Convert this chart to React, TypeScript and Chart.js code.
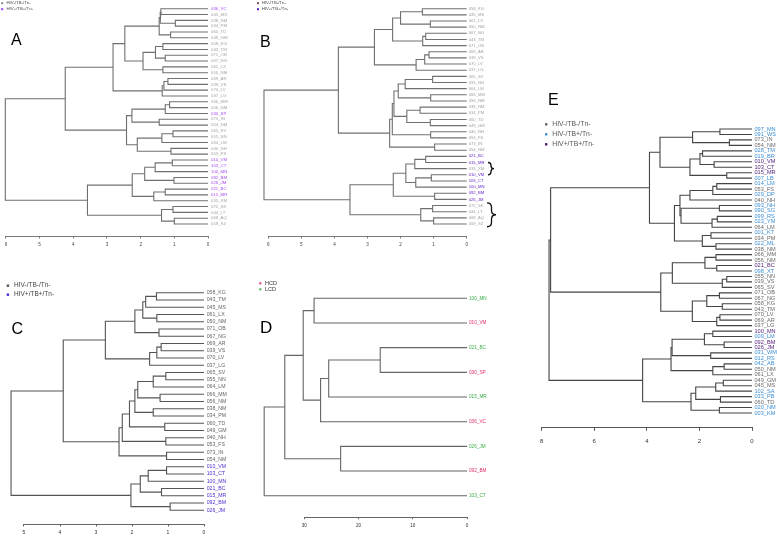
import React, { useEffect, useRef } from "react";
import { Chart, registerables } from "chart.js";

Chart.register(...registerables);

type Merge = [string, string, number];

// ---------------- Panel A data ----------------
const leavesA = ["036_VC","045_MS","038_NM","034_PM","060_TD","049_GM","058_KG","043_TM","071_OB","067_NG","061_LX","050_NM","069_AR","039_VS","070_LV","037_LG","066_MM","056_NM","030_SP","073_IN","054_NM","065_SV","055_NN","064_LM","040_NH","053_FS","010_VM","103_CT","100_MN","092_BM","026_JM","021_BC","015_MR","035_XM","072_SK","044_LT","068_AQ","059_SZ"];
const groupsA = [1,0,0,0,0,0,0,0,0,0,0,0,0,0,0,0,0,0,1,0,0,0,0,0,0,0,1,1,1,1,1,1,1,0,0,0,0,0];
const mergesA: Merge[] = [
  ["036_VC","045_MS",1.40],["038_NM","034_PM",0.97],["m0","m1",1.42],["060_TD","049_GM",1.11],["m2","m3",1.45],
  ["058_KG","043_TM",1.34],["071_OB","067_NG",1.27],["m5","m6",1.56],["061_LX","050_NM",1.34],["m7","m8",1.93],
  ["m4","m9",2.47],["069_AR","039_VS",1.19],["m11","070_LV",1.31],["m12","037_LG",1.36],["m10","m13",2.82],
  ["066_MM","056_NM",1.14],["m15","030_SP",1.27],["073_IN","054_NM",1.45],["m16","m17",2.26],["065_SV","055_NN",1.04],
  ["m19","064_LM",1.37],["040_NH","053_FS",1.10],["m20","m21",2.10],["m18","m22",2.42],["m14","m23",4.24],
  ["010_VM","103_CT",1.06],["m25","100_MN",1.57],["092_BM","026_JM",1.01],["m26","m27",1.88],["021_BC","015_MR",1.27],
  ["m29","035_XM",1.61],["m28","m30",2.25],["072_SK","044_LT",1.04],["068_AQ","059_SZ",1.00],["m32","m33",1.38],
  ["m31","m34",3.58],["m24","m35",6.02],
];
const ticksA = [0,1,2,3,4,5,6];
const legendA = ["HIV-/TB-/Tn-","HIV+/TB+/Tn-"];

// ---------------- Panel B data ----------------
const leavesB = ["058_KG","045_MS","061_LX","050_NM","067_NG","043_TM","071_OB","069_AR","039_VS","070_LV","037_LG","065_SV","055_NN","064_LM","066_MM","056_NM","038_NM","034_PM","060_TD","049_GM","040_NH","053_FS","073_IN","054_NM","021_BC","015_MR","035_XM","010_VM","103_CT","100_MN","092_BM","026_JM","072_SK","044_LT","068_AQ","059_SZ"];
const groupsB = [0,0,0,0,0,0,0,0,0,0,0,0,0,0,0,0,0,0,0,0,0,0,0,0,1,1,0,1,1,1,1,1,0,0,0,0];
const mergesB: Merge[] = [
  ["058_KG","045_MS",1.34],["061_LX","050_NM",1.10],["m0","m1",2.00],["067_NG","043_TM",1.24],["m3","071_OB",1.33],
  ["m2","m4",2.24],["069_AR","039_VS",1.14],["m6","070_LV",1.27],["m7","037_LG",1.53],["m5","m8",2.79],
  ["065_SV","055_NN",1.03],["m10","064_LM",1.86],["066_MM","056_NM",1.09],["m11","m12",2.07],["038_NM","034_PM",1.41],
  ["060_TD","049_GM",1.10],["m14","m15",1.81],["m13","m16",2.20],["040_NH","053_FS",1.09],["m17","m18",2.25],
  ["073_IN","054_NM",0.97],["m19","m20",2.33],["m9","m21",3.88],["021_BC","015_MR",1.24],["m23","035_XM",1.57],
  ["010_VM","103_CT",1.07],["m25","100_MN",1.54],["m24","m26",1.84],["092_BM","026_JM",0.97],["m27","m28",2.22],
  ["072_SK","044_LT",1.03],["068_AQ","059_SZ",1.00],["m30","m31",1.39],["m29","m32",3.53],["m22","m33",6.13],
];
const ticksB = [0,1,2,3,4,5,6];
const legendB = ["HIV-/TB-/Tn-","HIV+/TB+/Tn-"];
const bracesB: [string, string][] = [["015_MR","010_VM"],["072_SK","059_SZ"]];

// ---------------- Panel C data ----------------
const leavesC = ["058_KG","043_TM","045_MS","061_LX","050_NM","071_OB","067_NG","069_AR","039_VS","070_LV","037_LG","065_SV","055_NN","064_LM","066_MM","056_NM","038_NM","034_PM","060_TD","049_GM","040_NH","053_FS","073_IN","054_NM","010_VM","103_CT","100_MN","021_BC","015_MR","092_BM","026_JM"];
const groupsC = [0,0,0,0,0,0,0,0,0,0,0,0,0,0,0,0,0,0,0,0,0,0,0,0,1,1,1,1,1,1,1];
const mergesC: Merge[] = [
  ["058_KG","043_TM",1.32],["m0","045_MS",1.62],["061_LX","050_NM",1.31],["m1","m2",1.70],["071_OB","067_NG",1.25],
  ["m3","m4",1.92],["069_AR","039_VS",1.19],["m6","070_LV",1.31],["m7","037_LG",1.51],["m5","m8",2.74],
  ["065_SV","055_NN",1.06],["m10","064_LM",1.41],["066_MM","056_NM",1.22],["m11","m12",1.84],["038_NM","034_PM",1.41],
  ["m13","m14",1.92],["060_TD","049_GM",1.09],["m15","m16",2.07],["040_NH","053_FS",1.06],["m17","m18",2.27],
  ["073_IN","054_NM",1.04],["m19","m20",2.36],["m9","m21",3.91],["010_VM","103_CT",1.04],["m23","100_MN",1.55],
  ["021_BC","015_MR",1.18],["m24","m25",1.77],["092_BM","026_JM",0.94],["m26","m27",2.03],["m22","m28",5.36],
];
const ticksC = [0,1,2,3,4,5];
const legendC = ["HIV-/TB-/Tn-","HIV+/TB+/Tn-"];

// ---------------- Panel D data ----------------
const leavesD = ["100_MN","010_VM","021_BC","030_SP","015_MR","036_VC","026_JM","092_BM","103_CT"];
const groupsD = [1,0,1,0,1,0,1,0,1];
const mergesD: Merge[] = [
  ["100_MN","010_VM",28.2],["021_BC","030_SP",16.0],["m1","015_MR",25.5],["m2","036_VC",27.0],["m0","m3",30.2],
  ["026_JM","092_BM",23.3],["m4","m5",33.6],["m6","103_CT",37.4],
];
const ticksD = [0,10,20,30];
const legendD = ["HCD","LCD"];

// ---------------- Panel E data ----------------
const leavesE = ["097_MN","091_WS","073_IN","054_NM","028_TM","019_BR","010_VM","103_CT","015_MR","007_LB","014_LM","053_FS","029_DP","040_NH","093_NH","090_SG","099_RS","023_YM","064_LM","001_KT","034_PM","022_ML","038_NM","066_MM","056_NM","021_BC","098_XT","055_NN","039_VS","065_SV","071_OB","067_NG","058_KG","043_TM","070_LV","069_AR","037_LG","100_MN","009_LM","092_BM","026_JM","031_WM","012_RS","042_AB","050_NM","061_LX","049_GM","045_MS","102_SA","033_PB","060_TD","020_NM","003_KM"];
const groupsE = [1,1,0,0,1,1,2,2,2,1,1,0,1,0,1,1,1,1,0,1,0,1,0,0,0,2,1,0,0,0,0,0,0,0,0,0,0,2,1,2,2,1,1,1,0,0,0,0,1,1,0,1,1];
const mergesE: Merge[] = [
  ["097_MN","091_WS",1.22],["073_IN","054_NM",0.86],["m0","m1",2.26],["028_TM","019_BR",1.88],["010_VM","103_CT",1.44],
  ["m3","m4",1.98],["015_MR","007_LB",0.96],["m5","m6",2.36],["m2","m7",3.50],["014_LM","053_FS",1.34],
  ["m9","029_DP",1.49],["m10","040_NH",2.36],["093_NH","090_SG",1.24],["099_RS","023_YM",1.32],["m13","064_LM",1.52],
  ["m12","m14",2.70],["m11","m15",2.74],["001_KT","034_PM",1.56],["022_ML","038_NM",1.37],["m17","m18",1.89],
  ["m16","m19",2.95],["m8","m20",3.90],["066_MM","056_NM",1.37],["021_BC","098_XT",1.34],["m22","m23",1.79],
  ["055_NN","039_VS",0.96],["m25","065_SV",1.13],["m24","m26",3.03],["071_OB","067_NG",1.24],["058_KG","043_TM",1.13],
  ["m28","m29",1.72],["070_LV","069_AR",1.22],["m31","037_LG",1.34],["m30","m32",2.27],["m27","m33",3.47],
  ["m21","m34",7.66],["100_MN","009_LM",1.49],["092_BM","026_JM",1.06],["m36","m37",1.81],["031_WM","012_RS",1.57],
  ["m38","m39",3.04],["042_AB","050_NM",1.06],["m41","061_LX",1.49],["m40","m42",3.08],["049_GM","045_MS",1.09],
  ["m44","102_SA",1.38],["033_PB","060_TD",1.20],["m45","m46",2.14],["020_NM","003_KM",1.24],["m47","m48",2.32],
  ["m43","m49",4.16],["m35","m50",7.72],
];
const ticksE = [0,2,4,6,8];
const legendE = ["HIV-/TB-/Tn-","HIV-/TB+/Tn-","HIV+/TB+/Tn-"];

// ---------------- Layout / style ----------------
const PAGE_W = 777;
const PAGE_H = 536;
const FONT = "'Liberation Sans', Arial, Helvetica, sans-serif";

interface Panel {
  leaves: string[]; groups: number[]; merges: Merge[]; ticks: number[]; legend: string[]; letter: string;
  braces?: [string, string][];
  labelColors: string[]; legendColors: string[]; lineColor: string; lineWidth: number; axisColor: string; tickColor: string;
  x0: number; ppu: number; left: number; yTop: number; yBot: number; axisY: number;
  labelFont: number; labelPad: number; tickFont: number; tickPad: number; tickLen: number;
  legSqX: number; legTextX: number; legY: number; legGap: number; legFont: number; legSq: number; legTextColor: string;
  letterX: number; letterBase: number; letterFont: number;
  braceX?: number[]; braceW?: number[]; braceMargin?: number[];
}

const panels: Panel[] = [
  {
    leaves: leavesA, groups: groupsA, merges: mergesA, ticks: ticksA, legend: legendA, letter: "A",
    labelColors: ["#a3a3a3", "#a64bf0"], legendColors: ["#8a8a8a", "#a040e8"], lineColor: "#707070", lineWidth: 1.1, axisColor: "#7a7a7a", tickColor: "#444",
    x0: 208, ppu: 33.67, left: 2, yTop: 8.7, yBot: 224, axisY: 236,
    labelFont: 4.3, labelPad: 3, tickFont: 4.6, tickPad: 3.4, tickLen: 2.5,
    legSqX: 1.2, legTextX: 6.5, legY: 3.2, legGap: 6, legFont: 4.3, legSq: 2, legTextColor: "#444",
    letterX: 11, letterBase: 45, letterFont: 16,
  },
  {
    leaves: leavesB, groups: groupsB, merges: mergesB, ticks: ticksB, legend: legendB, letter: "B", braces: bracesB,
    labelColors: ["#a3a3a3", "#6a2cc8"], legendColors: ["#8b4a4a", "#5a1ab8"], lineColor: "#707070", lineWidth: 1.1, axisColor: "#7a7a7a", tickColor: "#444",
    x0: 466.7, ppu: 33.07, left: 262, yTop: 8.7, yBot: 224, axisY: 236,
    labelFont: 4.2, labelPad: 2, tickFont: 4.6, tickPad: 3.4, tickLen: 2.5,
    legSqX: 257, legTextX: 261.7, legY: 3.2, legGap: 6, legFont: 4.3, legSq: 2, legTextColor: "#444",
    letterX: 260, letterBase: 46.7, letterFont: 16,
    braceX: [488, 487], braceW: [6, 9], braceMargin: [0, 0.45],
  },
  {
    leaves: leavesC, groups: groupsC, merges: mergesC, ticks: ticksC, legend: legendC, letter: "C",
    labelColors: ["#666666", "#5530d0"], legendColors: ["#555555", "#5522dd"], lineColor: "#555555", lineWidth: 1.1, axisColor: "#666", tickColor: "#333",
    x0: 204, ppu: 36, left: 8, yTop: 292.7, yBot: 510.3, axisY: 524,
    labelFont: 5.2, labelPad: 2.7, tickFont: 5, tickPad: 3.4, tickLen: 2.5,
    legSqX: 6.7, legTextX: 14, legY: 285.7, legGap: 9, legFont: 6.5, legSq: 2.4, legTextColor: "#444",
    letterX: 11.5, letterBase: 333.5, letterFont: 16,
  },
  {
    leaves: leavesD, groups: groupsD, merges: mergesD, ticks: ticksD, legend: legendD, letter: "D",
    labelColors: ["#e0306a", "#3fae4a"], legendColors: ["#e0306a", "#3fae4a"], lineColor: "#666666", lineWidth: 1.1, axisColor: "#666", tickColor: "#333",
    x0: 467, ppu: 5.423, left: 262, yTop: 298.3, yBot: 495.7, axisY: 516.7,
    labelFont: 4.7, labelPad: 2, tickFont: 4.6, tickPad: 3.6, tickLen: 2.5,
    legSqX: 259.3, legTextX: 265, legY: 283.3, legGap: 6, legFont: 5.5, legSq: 2, legTextColor: "#333",
    letterX: 260, letterBase: 333.3, letterFont: 17,
  },
  {
    leaves: leavesE, groups: groupsE, merges: mergesE, ticks: ticksE, legend: legendE, letter: "E",
    labelColors: ["#6a6a6a", "#3d8fd4", "#4e1d7a"], legendColors: ["#666666", "#3d8fd4", "#4e1d7a"], lineColor: "#444444", lineWidth: 1.1, axisColor: "#555", tickColor: "#333",
    x0: 752, ppu: 26.29, left: 545, yTop: 129, yBot: 413, axisY: 427.3,
    labelFont: 5.6, labelPad: 2.5, tickFont: 6, tickPad: 7, tickLen: 3.5,
    legSqX: 545, legTextX: 552.3, legY: 124.3, legGap: 10, legFont: 6.8, legSq: 2.4, legTextColor: "#555",
    letterX: 548, letterBase: 105, letterFont: 16,
  },
];

function buildConfig(p: Panel): any {
  const pos = new Map<string, { y: number; h: number }>();
  p.leaves.forEach((l, i) => pos.set(l, { y: i, h: 0 }));
  const datasets = p.merges.map(([a, b, h], k) => {
    const A = pos.get(a)!;
    const B = pos.get(b)!;
    pos.set("m" + k, { y: (A.y + B.y) / 2, h });
    return {
      data: [
        { x: A.h, y: A.y },
        { x: h, y: A.y },
        { x: h, y: B.y },
        { x: B.h, y: B.y },
      ],
      showLine: true,
      borderColor: p.lineColor,
      borderWidth: p.lineWidth,
      pointRadius: 0,
      pointHoverRadius: 0,
      tension: 0,
      fill: false,
      clip: false,
    };
  });

  const n = p.leaves.length;
  const step = (p.yBot - p.yTop) / (n - 1);
  const xMax = (p.x0 - p.left) / p.ppu;
  const yMax = (p.axisY - p.yTop) / step;
  const padTop = p.yTop - step / 2;
  const xH = PAGE_H - p.axisY;
  const yW = PAGE_W - p.x0;

  const decor = {
    id: "decor",
    afterDraw(chart: any) {
      const ctx = chart.ctx as CanvasRenderingContext2D;
      const xs = chart.scales.x;
      const ys = chart.scales.y;
      ctx.save();
      // R-style axis line spanning the tick range only
      const ay = Math.round(xs.top) + 0.5;
      ctx.strokeStyle = p.axisColor;
      ctx.lineWidth = 1;
      ctx.beginPath();
      ctx.moveTo(xs.getPixelForValue(Math.min(...p.ticks)), ay);
      ctx.lineTo(xs.getPixelForValue(Math.max(...p.ticks)), ay);
      ctx.stroke();

      // legend
      p.legend.forEach((txt, i) => {
        const cy = p.legY + i * p.legGap;
        ctx.fillStyle = p.legendColors[i];
        ctx.fillRect(p.legSqX, cy - p.legSq / 2, p.legSq, p.legSq);
        ctx.fillStyle = p.legTextColor;
        ctx.font = `${p.legFont}px ${FONT}`;
        ctx.textBaseline = "middle";
        ctx.textAlign = "left";
        ctx.fillText(txt, p.legTextX, cy);
      });

      // panel letter
      ctx.fillStyle = "#000";
      ctx.font = `${p.letterFont}px ${FONT}`;
      ctx.textBaseline = "alphabetic";
      ctx.textAlign = "left";
      ctx.fillText(p.letter, p.letterX, p.letterBase);

      // braces
      if (p.braces && p.braceX && p.braceW) {
        p.braces.forEach(([from, to], i) => {
          const m = p.braceMargin ? p.braceMargin[i] : 0.4;
          const i1 = p.leaves.indexOf(from);
          const i2 = p.leaves.indexOf(to);
          const y1 = ys.getPixelForValue(i1 - m);
          const y2 = ys.getPixelForValue(i2 + m);
          const x = p.braceX![i];
          const w = p.braceW![i];
          const ym = (y1 + y2) / 2;
          const r = Math.min(w / 2, (y2 - y1) / 4);
          ctx.strokeStyle = "#111";
          ctx.lineWidth = 1.3;
          ctx.beginPath();
          ctx.moveTo(x, y1);
          ctx.quadraticCurveTo(x + w / 2, y1, x + w / 2, y1 + r);
          ctx.lineTo(x + w / 2, ym - r);
          ctx.quadraticCurveTo(x + w / 2, ym, x + w, ym);
          ctx.quadraticCurveTo(x + w / 2, ym, x + w / 2, ym + r);
          ctx.lineTo(x + w / 2, y2 - r);
          ctx.quadraticCurveTo(x + w / 2, y2, x, y2);
          ctx.stroke();
        });
      }
      ctx.restore();
    },
  };

  return {
    type: "scatter",
    data: { datasets },
    options: {
      responsive: false,
      animation: false,
      events: [],
      layout: { padding: { left: p.left, top: padTop, right: 0, bottom: 0 } },
      plugins: { legend: { display: false }, tooltip: { enabled: false } },
      scales: {
        x: {
          type: "linear",
          position: "bottom",
          reverse: true,
          min: 0,
          max: xMax,
          afterBuildTicks: (s: any) => {
            s.ticks = p.ticks.map((v) => ({ value: v }));
          },
          afterFit: (s: any) => {
            s.height = xH;
            s.paddingLeft = 0; s.paddingRight = 0; s.paddingTop = 0; s.paddingBottom = 0;
          },
          ticks: {
            autoSkip: false,
            maxRotation: 0,
            minRotation: 0,
            padding: p.tickPad,
            color: p.tickColor,
            font: { family: FONT, size: p.tickFont },
            callback: (v: any) => String(v),
          },
          grid: { drawOnChartArea: false, drawTicks: true, tickLength: p.tickLen, color: p.axisColor, lineWidth: 1 },
          border: { display: false },
        },
        y: {
          type: "linear",
          position: "right",
          reverse: true,
          min: -0.5,
          max: yMax,
          afterBuildTicks: (s: any) => {
            s.ticks = p.leaves.map((_, i) => ({ value: i }));
          },
          afterFit: (s: any) => {
            s.width = yW;
            s.paddingLeft = 0; s.paddingRight = 0; s.paddingTop = 0; s.paddingBottom = 0;
          },
          ticks: {
            autoSkip: false,
            padding: p.labelPad,
            font: { family: FONT, size: p.labelFont },
            color: (c: any) => p.labelColors[p.groups[c.index]] ?? "#888",
            callback: (_v: any, i: number) => p.leaves[i],
          },
          grid: { display: false, drawTicks: false },
          border: { display: false },
        },
      },
    },
    plugins: [decor],
  };
}

function PanelChart({ p }: { p: Panel }) {
  const ref = useRef<HTMLCanvasElement | null>(null);
  useEffect(() => {
    if (!ref.current) return;
    const chart = new Chart(ref.current, buildConfig(p));
    return () => chart.destroy();
  }, [p]);
  return (
    <canvas
      ref={ref}
      width={PAGE_W}
      height={PAGE_H}
      style={{ position: "absolute", left: 0, top: 0, width: PAGE_W, height: PAGE_H }}
    />
  );
}

export default function App() {
  return (
    <div style={{ position: "absolute", left: 0, top: 0, width: PAGE_W, height: PAGE_H, background: "#fff", overflow: "hidden" }}>
      {panels.map((p, i) => (
        <PanelChart key={i} p={p} />
      ))}
    </div>
  );
}
